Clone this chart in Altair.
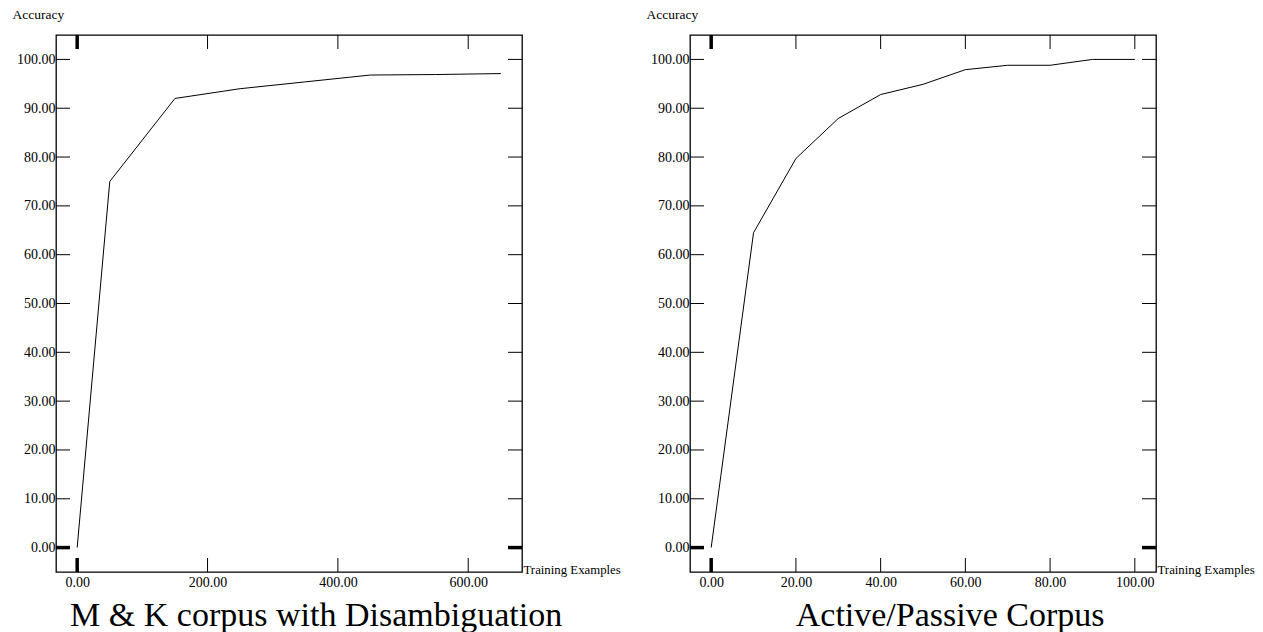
import altair as alt
import pandas as pd

# ---- data ----
mk_x = [0, 50, 150, 250, 350, 450, 550, 650]
mk_y = [0.0, 75.0, 92.0, 94.0, 95.4, 96.8, 96.9, 97.1]

ap_x = [0, 10, 20, 30, 40, 50, 60, 70, 80, 90, 100]
ap_y = [0.0, 64.5, 79.7, 87.9, 92.8, 94.9, 97.9, 98.8, 98.8, 100.0, 100.0]

y_ticks = [0, 10, 20, 30, 40, 50, 60, 70, 80, 90, 100]
mk_x_ticks = [0, 200, 400, 600]
ap_x_ticks = [0, 20, 40, 60, 80, 100]

mk_title = "M & K corpus with Disambiguation"
ap_title = "Active/Passive Corpus"
x_label = "Training Examples"
y_label = "Accuracy"

W, H = 466, 537
FONT = "Liberation Serif"
TL = 14  # tick length in px


def panel(xs, ys, xticks, xdomain, title):
    df = pd.DataFrame({"x": xs, "y": ys})
    xt = pd.DataFrame({"x": xticks})
    yt = pd.DataFrame({"y": y_ticks})
    xscale = alt.Scale(domain=xdomain, nice=False, zero=False)
    yscale = alt.Scale(domain=[-5, 105], nice=False, zero=False)

    xaxis = alt.Axis(values=xticks, format=".2f", ticks=False, tickSize=0,
                     domain=False, grid=False, labelPadding=3,
                     labelFont=FONT, labelFontSize=14, labelColor="black",
                     labelFlush=False,
                     title=x_label, titleFont=FONT, titleFontSize=12.8,
                     titleFontWeight="normal", titleColor="black",
                     titleX=W + 1, titleY=1, titleAlign="left",
                     titleBaseline="alphabetic")
    yaxis = alt.Axis(values=y_ticks, format=".2f", ticks=False, tickSize=0,
                     domain=False, grid=False, labelPadding=1,
                     labelFont=FONT, labelFontSize=14, labelColor="black",
                     labelBaseline="alphabetic", labelOffset=4,
                     labelFlush=False,
                     title=y_label, titleFont=FONT, titleFontSize=13.5,
                     titleFontWeight="normal", titleColor="black",
                     titleAngle=0, titleX=-44, titleY=-17,
                     titleAlign="left", titleBaseline="alphabetic")

    X = alt.X("x:Q", scale=xscale, axis=xaxis, title=x_label)
    Y = alt.Y("y:Q", scale=yscale, axis=yaxis, title=y_label)

    line = alt.Chart(df).mark_line(color="black", strokeWidth=1).encode(x=X, y=Y)

    sw = alt.condition("datum.x == 0", alt.value(3.5), alt.value(1))
    swy = alt.condition("datum.y == 0", alt.value(3.5), alt.value(1))

    xt_top = alt.Chart(xt).mark_rule(color="black").encode(
        x=X, y=alt.value(0), y2=alt.value(TL), strokeWidth=sw)
    xt_bot = alt.Chart(xt).mark_rule(color="black").encode(
        x=X, y=alt.value(H - TL), y2=alt.value(H), strokeWidth=sw)
    yt_left = alt.Chart(yt).mark_rule(color="black").encode(
        y=Y, x=alt.value(0), x2=alt.value(TL), strokeWidth=swy)
    yt_right = alt.Chart(yt).mark_rule(color="black").encode(
        y=Y, x=alt.value(W - TL), x2=alt.value(W), strokeWidth=swy)

    return alt.layer(line, xt_top, xt_bot, yt_left, yt_right).properties(
        width=W, height=H,
        title=alt.TitleParams(text=title, orient="bottom", anchor="middle",
                              frame="bounds", font=FONT, fontSize=34,
                              fontWeight="normal", color="black",
                              baseline="alphabetic", offset=37),
    )


left = panel(mk_x, mk_y, mk_x_ticks, [-32.5, 682.5], mk_title)
right = panel(ap_x, ap_y, ap_x_ticks, [-5, 105], ap_title)

chart = alt.hconcat(left, right, spacing=168, bounds="flush").properties(
    padding={"left": 3, "top": -2, "right": 0, "bottom": 0},
    background="white",
).configure_view(stroke="black", strokeWidth=1.3)

chart.save("out.html", embed_options={"renderer": "svg", "actions": False})
